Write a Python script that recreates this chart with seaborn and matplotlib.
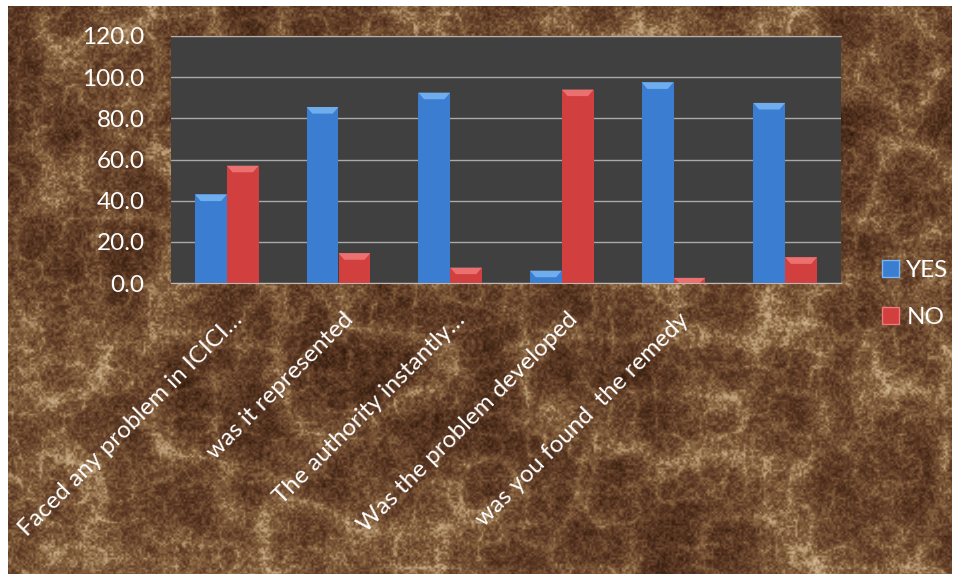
### Survey chart: YES / NO answers per question
import matplotlib
matplotlib.use("Agg")
import matplotlib.pyplot as plt
import matplotlib.transforms as mtransforms
from matplotlib.colors import LinearSegmentedColormap
from matplotlib.patches import Patch, Polygon
import seaborn as sns
import numpy as np
import pandas as pd

## Data
questions = ["Faced any problem in ICICI…", "was it represented", "The authority instantly…",
             "Was the problem developed", "was you found  the remedy", ""]
yes_pct = [43.0, 85.5, 92.5, 6.0, 97.5, 87.5]
no_pct = [57.0, 14.5, 7.5, 94.0, 2.5, 12.5]
answers = ["YES", "NO"]

df = pd.DataFrame({
    "question": questions * 2,
    "pct": yes_pct + no_pct,
    "answer": ["YES"] * len(questions) + ["NO"] * len(questions),
})

blue, red = "#3b7dd0", "#d13f3f"
blue_top, red_top = "#7ab6f2", "#f07a7a"

## Marble-ish background texture (decoration only)
def value_noise(h, w, cell, rng):
    g = rng.random((h // cell + 2, w // cell + 2))
    ys = np.arange(h) / cell
    xs = np.arange(w) / cell
    y0 = ys.astype(int)
    x0 = xs.astype(int)
    fy = (ys - y0)[:, None]
    fx = (xs - x0)[None, :]
    fy = fy * fy * (3 - 2 * fy)
    fx = fx * fx * (3 - 2 * fx)
    a = g[y0][:, x0]
    b = g[y0][:, x0 + 1]
    c = g[y0 + 1][:, x0]
    d = g[y0 + 1][:, x0 + 1]
    return a * (1 - fx) * (1 - fy) + b * fx * (1 - fy) + c * (1 - fx) * fy + d * fx * fy

rng = np.random.default_rng(7)
H, W = 568, 944
fbm = sum(value_noise(H, W, c, rng) * a for c, a in [(90, 0.4), (40, 0.3), (18, 0.2), (8, 0.1)])
vein_a = (1 - np.abs(2 * value_noise(H, W, 60, rng) - 1)) ** 3
vein_b = (1 - np.abs(2 * value_noise(H, W, 22, rng) - 1)) ** 4
speck = 0.6 * value_noise(H, W, 2, rng) + 0.4 * value_noise(H, W, 4, rng)
tex = 0.38 * fbm + 0.17 * vein_a + 0.12 * vein_b + 0.33 * speck
tex = (tex - tex.min()) / (tex.max() - tex.min())
marble = LinearSegmentedColormap.from_list(
    "marble", ["#2a170c", "#472a18", "#64402a", "#86623f", "#b89a74", "#d2bc98"])

## Figure
sns.set_style("white")
plt.rcParams["font.family"] = ["Lato", "DejaVu Sans"]
fs = 17.5

fig = plt.figure(figsize=(9.58, 5.78), dpi=100)
fig.patch.set_facecolor("white")

bg = fig.add_axes([8 / 958, 4 / 578, 944 / 958, 568 / 578])
bg.imshow(tex, cmap=marble, aspect="auto", interpolation="bilinear", vmin=0.0, vmax=1.0)
bg.axis("off")

ax = fig.add_axes([171 / 958, 1 - 283 / 578, 670 / 958, 247 / 578])
ax.set_facecolor("#404040")

sns.barplot(data=df, x="question", y="pct", hue="answer", hue_order=answers,
            palette=[blue, red], width=0.57, ax=ax, legend=False,
            edgecolor="none", saturation=1)

# bevel highlight on top of every bar
for cont, top_col in zip(ax.containers, [blue_top, red_top]):
    for p in cont.patches:
        x0, w, h = p.get_x(), p.get_width(), p.get_height()
        d = min(3.2, h)
        ax.add_patch(Polygon([(x0, h), (x0 + w, h), (x0 + w * 0.82, h - d), (x0 + w * 0.18, h - d)],
                             closed=True, facecolor=top_col, edgecolor="none", alpha=0.85, zorder=3))

ax.set_xlim(-0.5, len(questions) - 0.5)
ax.set_ylim(0, 120)
ax.set_yticks(np.arange(0, 121, 20))
ax.set_yticklabels([f"{v:.1f}" for v in np.arange(0, 121, 20)])
ax.yaxis.grid(True, color="#a9a9a9", lw=1)
ax.set_axisbelow(True)
ax.set_xlabel("")
ax.set_ylabel("")

for s in ["left", "right"]:
    ax.spines[s].set_visible(False)
ax.spines["top"].set_color("#b8b0a8")
ax.spines["bottom"].set_color("#c0b8b0")

ax.tick_params(axis="y", length=0, pad=19, labelsize=fs, labelcolor="white")
ax.tick_params(axis="x", which="major", length=0, pad=24, labelsize=fs, labelcolor="white")
ax.set_xticks(np.arange(-0.5, len(questions)), minor=True)
ax.tick_params(axis="x", which="minor", length=6, color="#c0b8b0", direction="out")

offset = mtransforms.ScaledTranslation(12 / 100, 0, fig.dpi_scale_trans)
for lab in ax.get_xticklabels():
    lab.set_rotation(45)
    lab.set_ha("right")
    lab.set_va("center")
    lab.set_rotation_mode("anchor")
    lab.set_transform(lab.get_transform() + offset)

handles = [Patch(facecolor=blue, edgecolor=blue_top), Patch(facecolor=red, edgecolor=red_top)]
fig.legend(handles, answers, loc="center left", bbox_to_anchor=(882 / 958, 1 - 294 / 578),
           frameon=False, labelcolor="white", fontsize=fs, handlelength=0.7,
           handleheight=0.7, handletextpad=0.3, labelspacing=1.1,
           borderpad=0, borderaxespad=0)

fig.savefig("out.png", dpi=100, facecolor=fig.get_facecolor())
